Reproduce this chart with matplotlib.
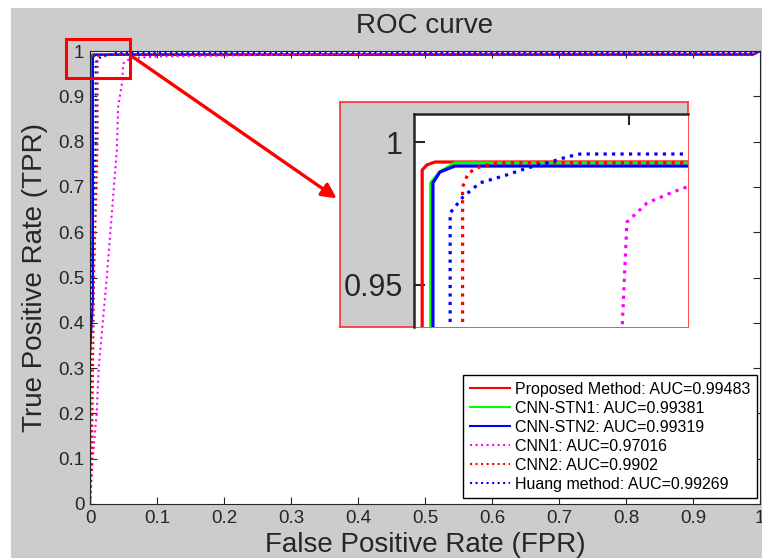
import matplotlib
matplotlib.use('Agg')
import matplotlib.pyplot as plt
from matplotlib.patches import Rectangle, FancyArrowPatch

plt.rcParams['font.family'] = ['Liberation Sans', 'DejaVu Sans']

W, H = 762, 558

# ROC curves (FPR, TPR)
proposed_fpr = [0, 0, 0.0019, 0.0019, 0.003, 0.0049, 0.99, 1.0]
proposed_tpr = [0, 0.5, 0.7, 0.9902, 0.992, 0.9930, 0.9935, 1.0]

stn1_fpr = [0, 0, 0.0039, 0.0039, 0.006, 0.0095, 0.99, 1.0]
stn1_tpr = [0, 0.5, 0.6, 0.9857, 0.9895, 0.9927, 0.9930, 1.0]

stn2_fpr = [0, 0, 0.0044, 0.0044, 0.006, 0.0095, 0.99, 1.0]
stn2_tpr = [0, 0.33, 0.45, 0.9857, 0.9895, 0.9916, 0.9918, 1.0]

cnn1_fpr = [0, 0.004, 0.010, 0.013, 0.019, 0.025, 0.033, 0.040, 0.042, 0.0484,
            0.0495, 0.0542, 0.0602, 0.0635, 0.1, 0.3, 0.5, 0.99, 1.0]
cnn1_tpr = [0, 0.1, 0.2, 0.3, 0.4, 0.5, 0.65, 0.78, 0.876, 0.9353,
            0.972, 0.9787, 0.9825, 0.9843, 0.988, 0.992, 0.995, 0.996, 1.0]

cnn2_fpr = [0, 0.003, 0.006, 0.0113, 0.0113, 0.0126, 0.0153, 0.0193, 0.99, 1.0]
cnn2_tpr = [0, 0.1, 0.5, 0.8, 0.9843, 0.9892, 0.9913, 0.9927, 0.9930, 1.0]

huang_fpr = [0, 0.002, 0.0084, 0.0084, 0.0114, 0.0153, 0.0216, 0.0263, 0.031,
             0.0356, 0.0386, 0.99, 1.0]
huang_tpr = [0, 0.5, 0.8, 0.9752, 0.9808, 0.9857, 0.9885, 0.9909, 0.9927,
             0.9948, 0.9958, 0.9960, 1.0]

labels = ['Proposed Method: AUC=0.99483', 'CNN-STN1: AUC=0.99381',
          'CNN-STN2: AUC=0.99319', 'CNN1: AUC=0.97016',
          'CNN2: AUC=0.9902', 'Huang method: AUC=0.99269']

curves = [
    (proposed_fpr, proposed_tpr, '#ff0000', '-'),
    (stn1_fpr, stn1_tpr, '#00ff00', '-'),
    (stn2_fpr, stn2_tpr, '#0000ff', '-'),
    (cnn1_fpr, cnn1_tpr, '#ff00ff', ':'),
    (cnn2_fpr, cnn2_tpr, '#ff0000', ':'),
    (huang_fpr, huang_tpr, '#0000ff', ':'),
]


def frac(x, y):
    # pixel position (from top-left) -> figure fraction
    return x / W, 1 - y / H


def main():
    fig = plt.figure(figsize=(W / 100, H / 100), dpi=100, facecolor='white')
    # grey MATLAB-like background
    fig.add_artist(Rectangle((11 / W, 0), 1, 1 - 8 / H, transform=fig.transFigure,
                             facecolor='#cccccc', edgecolor='none', zorder=-10))

    ax = fig.add_axes([90 / W, 1 - 504 / H, 670 / W, 453 / H])
    for (x, y, c, ls), lab in zip(curves, labels):
        ax.plot(x, y, color=c, linestyle=ls, lw=1.5, label=lab)

    ax.set_xlim(0, 1)
    ax.set_ylim(0, 1)
    ax.set_xticks([i / 10 for i in range(11)])
    ax.set_yticks([i / 10 for i in range(11)])
    ax.set_xticklabels(['0'] + ['%.1f' % (i / 10) for i in range(1, 10)] + ['1'])
    ax.set_yticklabels(['0'] + ['%.1f' % (i / 10) for i in range(1, 10)] + ['1'])
    ax.tick_params(direction='in', length=5, width=0.8, top=True, right=True,
                   labelsize=13.5, colors='#262626', pad=4)
    for sp in ax.spines.values():
        sp.set_color('#262626')
    ax.set_title('ROC curve', fontsize=20, color='#262626', pad=13)
    ax.set_xlabel('False Positive Rate (FPR)', fontsize=20, color='#262626', labelpad=4)
    ax.set_ylabel('True Positive Rate (TPR)', fontsize=20, color='#262626', labelpad=7)

    leg = ax.legend(loc='lower right', bbox_to_anchor=(0.9955, 0.013), fontsize=11.5,
                    fancybox=False, framealpha=1, edgecolor='k', borderpad=0.4,
                    handlelength=2.5, handletextpad=0.35, labelspacing=0.25,
                    borderaxespad=0)
    leg.get_frame().set_linewidth(1.0)

    # zoom box and arrow
    fig.add_artist(Rectangle(frac(66, 78), 64 / W, 39 / H, transform=fig.transFigure,
                             fill=False, edgecolor='red', lw=2.2, zorder=5))
    fig.add_artist(FancyArrowPatch(frac(130, 55), frac(339, 200), transform=fig.transFigure,
                                   arrowstyle='-|>', mutation_scale=22, color='red',
                                   lw=2.4, zorder=5))

    # inset: grey frame with red border
    frame = fig.add_axes([340 / W, 1 - 327 / H, 348 / W, 225 / H], zorder=6)
    frame.set_facecolor('#cccccc')
    frame.set_xticks([])
    frame.set_yticks([])
    for sp in frame.spines.values():
        sp.set_color('#ff3030')
        sp.set_linewidth(1.2)

    ins = fig.add_axes([414 / W, 1 - 327 / H, 274 / W, 213 / H], zorder=7)
    for x, y, c, ls in curves:
        ins.plot(x, y, color=c, linestyle=ls, lw=2.3)
    ins.set_xlim(0, 0.0637)
    ins.set_ylim(0.9353, 1.0098)
    ins.set_xticks([0.05])
    ins.set_xticklabels([])
    ins.set_yticks([0.95, 1])
    ins.set_yticklabels(['0.95', '1'])
    ins.tick_params(direction='in', length=8, width=1.5, top=True, bottom=False,
                    left=True, right=False, labelsize=22, pad=8, colors='#262626')
    ins.spines['right'].set_visible(False)
    ins.spines['bottom'].set_visible(False)
    for s in ('left', 'top'):
        ins.spines[s].set_linewidth(1.8)
        ins.spines[s].set_color('#262626')

    fig.savefig('out.png', dpi=100, facecolor=fig.get_facecolor())


if __name__ == '__main__':
    main()
